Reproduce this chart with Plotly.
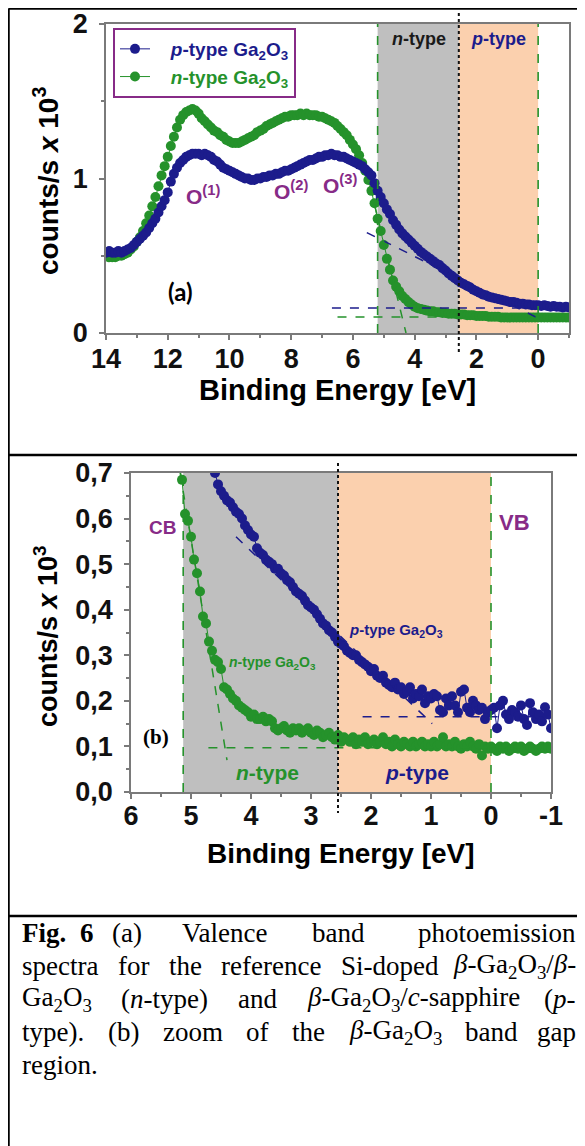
import re
import plotly.graph_objects as go

W, H = 585, 1146

# ---------------- data ----------------
# panel (a): spectra sampled every 0.1 eV from 14.0 eV down to -1.0 eV
energy_a_start, energy_a_step = 14.0, 0.1
p_type_a = [
    0.52, 0.53, 0.52, 0.52, 0.53, 0.52, 0.53, 0.54, 0.55, 0.57, 0.59,
    0.61, 0.63, 0.65, 0.68, 0.71, 0.74, 0.78, 0.82, 0.86, 0.91,
    0.98, 1.03, 1.07, 1.10, 1.12, 1.14, 1.15, 1.16, 1.16, 1.16,
    1.15, 1.16, 1.15, 1.14, 1.12, 1.11, 1.09, 1.07, 1.06, 1.05,
    1.04, 1.03, 1.02, 1.01, 1.00, 1.00, 0.99, 0.99, 1.00, 1.00,
    1.01, 1.01, 1.02, 1.02, 1.03, 1.03, 1.04, 1.05, 1.05, 1.06,
    1.07, 1.08, 1.09, 1.10, 1.11, 1.12, 1.12, 1.13, 1.14, 1.14,
    1.15, 1.15, 1.16, 1.15, 1.15, 1.14, 1.14, 1.13, 1.12, 1.11,
    1.10, 1.09, 1.08, 1.06, 1.04, 1.02, 0.97, 0.92, 0.88, 0.84,
    0.80, 0.77, 0.73, 0.70, 0.67, 0.645, 0.625, 0.605, 0.585, 0.565,
    0.545, 0.525, 0.51, 0.495, 0.48, 0.465, 0.45, 0.44, 0.42, 0.405,
    0.385, 0.37, 0.355, 0.34, 0.325, 0.315, 0.305, 0.295, 0.28, 0.27,
    0.26, 0.25, 0.245, 0.235, 0.23, 0.225, 0.22, 0.215, 0.21, 0.205,
    0.20, 0.20, 0.195, 0.19, 0.19, 0.185, 0.185, 0.18, 0.18, 0.18,
    0.175, 0.18, 0.175, 0.17, 0.175, 0.17, 0.17, 0.165, 0.17, 0.165,
]
n_type_a = [
    0.50, 0.49, 0.49, 0.49, 0.50, 0.50, 0.51, 0.52, 0.54, 0.56, 0.59,
    0.62, 0.66, 0.71, 0.76, 0.82, 0.88, 0.95, 1.02, 1.08, 1.14,
    1.21, 1.27, 1.33, 1.38, 1.41, 1.43, 1.44, 1.45, 1.44, 1.42,
    1.39, 1.37, 1.35, 1.33, 1.31, 1.30, 1.28, 1.27, 1.25, 1.24,
    1.23, 1.23, 1.23, 1.24, 1.25, 1.26, 1.27, 1.28, 1.30, 1.31,
    1.32, 1.34, 1.35, 1.36, 1.37, 1.38, 1.39, 1.40, 1.40, 1.41,
    1.41, 1.41, 1.42, 1.41, 1.42, 1.41, 1.41, 1.41, 1.40, 1.40,
    1.39, 1.38, 1.37, 1.36, 1.34, 1.32, 1.30, 1.28, 1.25, 1.22,
    1.19, 1.15, 1.10, 1.05, 0.99, 0.92, 0.84, 0.74, 0.66, 0.57,
    0.48, 0.41, 0.34, 0.30, 0.27, 0.24, 0.22, 0.20, 0.185, 0.17,
    0.16, 0.155, 0.15, 0.145, 0.14, 0.14, 0.135, 0.135, 0.13, 0.13,
    0.125, 0.125, 0.125, 0.12, 0.12, 0.12, 0.115, 0.115, 0.115, 0.11,
    0.11, 0.11, 0.11, 0.105, 0.105, 0.105, 0.105, 0.10, 0.10, 0.10,
    0.10, 0.10, 0.10, 0.10, 0.10, 0.10, 0.10, 0.10, 0.10, 0.10,
    0.10, 0.10, 0.10, 0.10, 0.10, 0.10, 0.10, 0.10, 0.10, 0.10,
]

# panel (b): zoom, sampled every 0.05 eV
energy_b_step = 0.05
energy_b_p_start = 4.70
p_type_b = [
    0.73, 0.715, 0.70, 0.675, 0.66, 0.65, 0.64, 0.635, 0.625, 0.615,
    0.61, 0.60, 0.585, 0.575, 0.565, 0.56, 0.535, 0.525, 0.52, 0.51,
    0.505, 0.50, 0.49, 0.49, 0.48, 0.475, 0.465, 0.46, 0.45, 0.44,
    0.435, 0.43, 0.42, 0.41, 0.405, 0.40, 0.39, 0.38, 0.37, 0.365,
    0.355, 0.35, 0.34, 0.33, 0.325, 0.32, 0.31, 0.305, 0.30, 0.30,
    0.29, 0.285, 0.28, 0.275, 0.265, 0.27, 0.255, 0.25, 0.255, 0.24,
    0.235, 0.23, 0.24, 0.225, 0.23, 0.215, 0.22, 0.23, 0.205, 0.215,
    0.21, 0.225, 0.195, 0.21, 0.205, 0.215, 0.21, 0.18, 0.175, 0.205,
    0.19, 0.21, 0.19, 0.175, 0.22, 0.225, 0.185, 0.175, 0.20, 0.19,
    0.18, 0.185, 0.16, 0.175, 0.18, 0.185, 0.14, 0.19, 0.20, 0.17,
    0.16, 0.18, 0.175, 0.165, 0.19, 0.16, 0.147, 0.195, 0.175, 0.16,
    0.17, 0.155, 0.186, 0.17, 0.14,
]
energy_b_n_start = 5.20
n_type_b = [
    0.72, 0.685, 0.61, 0.595, 0.56, 0.51, 0.48, 0.44, 0.385, 0.37,
    0.33, 0.31, 0.29, 0.285, 0.27, 0.23, 0.225, 0.215, 0.205, 0.20,
    0.19, 0.185, 0.18, 0.175, 0.165, 0.17, 0.16, 0.16, 0.165, 0.155,
    0.16, 0.155, 0.14, 0.135, 0.14, 0.145, 0.135, 0.13, 0.14, 0.135,
    0.14, 0.13, 0.135, 0.14, 0.13, 0.125, 0.135, 0.13, 0.12, 0.125,
    0.13, 0.12, 0.115, 0.125, 0.11, 0.12, 0.115, 0.11, 0.12, 0.105,
    0.115, 0.11, 0.12, 0.105, 0.11, 0.115, 0.105, 0.11, 0.12, 0.105,
    0.11, 0.10, 0.115, 0.105, 0.10, 0.11, 0.105, 0.10, 0.11, 0.10,
    0.105, 0.11, 0.10, 0.105, 0.10, 0.11, 0.10, 0.105, 0.12, 0.10,
    0.105, 0.10, 0.11, 0.10, 0.095, 0.105, 0.10, 0.11, 0.10, 0.095,
    0.105, 0.08, 0.10, 0.095, 0.10, 0.095, 0.09, 0.10, 0.095, 0.10,
    0.09, 0.095, 0.10, 0.095, 0.10, 0.09, 0.095, 0.10, 0.095, 0.09,
    0.095, 0.10, 0.095, 0.10, 0.095,
]

# linear fits (end points, eV / counts)
p_slope_a_x, p_slope_a_y = [5.55, 0.04], [0.65, 0.10]
p_base_a_x, p_base_a_y = [6.68, -1.0], [0.162, 0.162]
n_slope_a_x, n_slope_a_y = [5.30, 4.28], [0.83, 0.0]
n_base_a_x, n_base_a_y = [6.50, -1.0], [0.104, 0.104]
p_slope_b_x, p_slope_b_y = [4.25, 0.98], [0.56, 0.15]
p_base_b_x, p_base_b_y = [2.14, -1.0], [0.165, 0.165]
n_slope_b_x, n_slope_b_y = [5.18, 4.40], [0.70, 0.07]
n_base_b_x, n_base_b_y = [4.71, -1.0], [0.097, 0.097]

# band edges / Fermi midpoint
cb_a, mid_a, vb_a = 5.2, 2.57, 0.0
cb_b, mid_b, vb_b = 5.13, 2.55, 0.0

# ticks
x_ticks_a = [14, 12, 10, 8, 6, 4, 2, 0]
x_ticktext_a = ["14", "12", "10", "8", "6", "4", "2", "0"]
x_minor_a = [13, 11, 9, 7, 5, 3, 1, -1]
y_ticks_a = [0, 1, 2]
y_ticktext_a = ["0", "1", "2"]
y_minor_a = [0.5, 1.5]
x_ticks_b = [6, 5, 4, 3, 2, 1, 0, -1]
x_ticktext_b = ["6", "5", "4", "3", "2", "1", "0", "-1"]
x_minor_b = [5.5, 4.5, 3.5, 2.5, 1.5, 0.5, -0.5]
y_ticks_b = [0, 0.1, 0.2, 0.3, 0.4, 0.5, 0.6, 0.7]
y_ticktext_b = ["0,0", "0,1", "0,2", "0,3", "0,4", "0,5", "0,6", "0,7"]
y_minor_b = [0.05, 0.15, 0.25, 0.35, 0.45, 0.55, 0.65]

# caption (justified text)
caption_lines = [
    ["<b>Fig.</b>", "<b>6</b>", "(a)", "Valence", "band", "photoemission"],
    ["spectra", "for", "the", "reference", "Si-doped",
     "<i>β</i>-Ga<sub>2</sub>O<sub>3</sub>/<i>β</i>-"],
    ["Ga<sub>2</sub>O<sub>3</sub>", "(<i>n</i>-type)", "and",
     "<i>β</i>-Ga<sub>2</sub>O<sub>3</sub>/<i>c</i>-sapphire", "(<i>p</i>-"],
    ["type).", "(b)", "zoom", "of", "the", "<i>β</i>-Ga<sub>2</sub>O<sub>3</sub>", "band", "gap"],
    ["region."],
]

energy_a = [round(energy_a_start - energy_a_step * i, 2) for i in range(len(p_type_a))]
energy_b_p = [round(energy_b_p_start - energy_b_step * i, 2) for i in range(len(p_type_b))]
energy_b_n = [round(energy_b_n_start - energy_b_step * i, 2) for i in range(len(n_type_b))]

# ---------------- style ----------------
NAVY = "#1C1C8C"
GREEN = "#25922B"
PURPLE = "#872B87"
AXGRAY = "#7A7A7A"
SHADE_GRAY = "#BFBFBF"
SHADE_ORANGE = "#FBD0AE"
SANS = "Liberation Sans"
SERIF = "Liberation Serif"

# the page body has an 8 px margin: the figure is drawn 8 px in from the window corner
OFF = 8
FW, FH = W - OFF, H - OFF


def px(x):
    return (x - OFF) / FW


def py(y):
    return 1 - (y - OFF) / FH


fig = go.Figure()

P_NAME = '<span style="color:%s">&nbsp;&nbsp;&nbsp;<i>p</i>-type Ga<sub>2</sub>O<sub>3</sub></span>' % NAVY
N_NAME = '<span style="color:%s">&nbsp;&nbsp;&nbsp;<i>n</i>-type Ga<sub>2</sub>O<sub>3</sub></span>' % GREEN

# panel (a)
fig.add_trace(go.Scatter(x=energy_a, y=n_type_a, mode="lines+markers", name=N_NAME,
                         line=dict(color=GREEN, width=1), marker=dict(color=GREEN, size=10),
                         xaxis="x", yaxis="y"))
fig.add_trace(go.Scatter(x=energy_a, y=p_type_a, mode="lines+markers", name=P_NAME,
                         line=dict(color=NAVY, width=1), marker=dict(color=NAVY, size=10),
                         xaxis="x", yaxis="y"))
for xs, ys, c in [(p_slope_a_x, p_slope_a_y, NAVY), (p_base_a_x, p_base_a_y, NAVY),
                  (n_slope_a_x, n_slope_a_y, GREEN), (n_base_a_x, n_base_a_y, GREEN)]:
    fig.add_trace(go.Scatter(x=xs, y=ys, mode="lines", showlegend=False,
                             line=dict(color=c, width=1.5, dash="dash"), xaxis="x", yaxis="y"))

# panel (b)
fig.add_trace(go.Scatter(x=energy_b_n, y=n_type_b, mode="lines+markers", showlegend=False,
                         line=dict(color=GREEN, width=1), marker=dict(color=GREEN, size=10),
                         xaxis="x2", yaxis="y2"))
fig.add_trace(go.Scatter(x=energy_b_p, y=p_type_b, mode="lines+markers", showlegend=False,
                         line=dict(color=NAVY, width=1), marker=dict(color=NAVY, size=10),
                         xaxis="x2", yaxis="y2"))
for xs, ys, c in [(p_slope_b_x, p_slope_b_y, NAVY), (p_base_b_x, p_base_b_y, NAVY),
                  (n_slope_b_x, n_slope_b_y, GREEN), (n_base_b_x, n_base_b_y, GREEN)]:
    fig.add_trace(go.Scatter(x=xs, y=ys, mode="lines", showlegend=False,
                             line=dict(color=c, width=1.5, dash="dash"), xaxis="x2", yaxis="y2"))

tickfont = dict(family=SANS, size=27, weight="bold", color="#111111")


def axis(domain, rng, tv, tt, minor_vals, anchor, standoff):
    return dict(domain=domain, range=rng, anchor=anchor, tickmode="array", tickvals=tv, ticktext=tt,
                showline=True, linecolor=AXGRAY, linewidth=1.5, mirror=True,
                ticks="outside", ticklen=5, tickwidth=1.5, tickcolor=AXGRAY,
                minor=dict(tickmode="array", tickvals=minor_vals, ticks="outside", ticklen=3,
                           tickwidth=1.5, tickcolor=AXGRAY),
                showgrid=False, zeroline=False, tickfont=tickfont, ticklabelstandoff=standoff,
                automargin=False, fixedrange=True)


shapes = []
# shaded regions and band-edge lines
for xref, yref, cb, mid, vb, ytop, ybot in [("x", "y", cb_a, mid_a, vb_a, 13, 353),
                                            ("x2", "y2", cb_b, mid_b, vb_b, 463, 813)]:
    shapes.append(dict(type="rect", xref=xref, yref=yref + " domain", x0=cb, x1=mid, y0=0, y1=1,
                       fillcolor=SHADE_GRAY, line=dict(width=0), layer="below"))
    shapes.append(dict(type="rect", xref=xref, yref=yref + " domain", x0=mid, x1=vb, y0=0, y1=1,
                       fillcolor=SHADE_ORANGE, line=dict(width=0), layer="below"))
    for e in (cb, vb):
        shapes.append(dict(type="line", xref=xref, yref=yref + " domain", x0=e, x1=e, y0=0, y1=1,
                           line=dict(color=GREEN, width=1.6, dash="dash")))
    shapes.append(dict(type="line", xref=xref, yref="paper", x0=mid, x1=mid, y0=py(ytop), y1=py(ybot),
                       line=dict(color="#111111", width=2, dash="dot")))

# frame of the figure page
for x0, y0, x1, y1 in [(8.5, 8.5, 585, 8.5), (8.5, 8.5, 8.5, 1146),
                       (8.5, 455, 585, 455), (8.5, 916, 585, 916)]:
    shapes.append(dict(type="line", xref="paper", yref="paper", x0=px(x0), y0=py(y0),
                       x1=px(x1), y1=py(y1), line=dict(color="black", width=2.5)))

annotations = []


def ann(x, y, text, size, color="black", family=SANS, weight="bold", angle=0, xanchor="center"):
    annotations.append(dict(x=px(x), y=py(y), xref="paper", yref="paper", text=text, showarrow=False,
                            xanchor=xanchor, yanchor="middle", textangle=angle,
                            font=dict(family=family, size=size, color=color, weight=weight)))


# axis titles
ann(337, 390, "Binding Energy [eV]", 29)
ann(341, 853, "Binding Energy [eV]", 28)
ann(46, 181, "counts/s <i>x</i> 10<sup>3</sup>", 28, angle=-90)
ann(46, 636, "counts/s <i>x</i> 10<sup>3</sup>", 27, angle=-90)

# panel (a) labels
ann(419, 39, "<i>n</i>-type", 18, color="#1A1A1A")
ann(498, 39, "<i>p</i>-type", 18, color=NAVY)
ann(203, 195, "O<sup>(1)</sup>", 21, color=PURPLE)
ann(291, 190, "O<sup>(2)</sup>", 21, color=PURPLE)
ann(340, 184, "O<sup>(3)</sup>", 21, color=PURPLE)
ann(180, 291, "(a)", 24, family="Lato")

# panel (b) labels
ann(162, 527, "CB", 19, color=PURPLE)
ann(514, 522, "VB", 22, color=PURPLE)
ann(156, 737, "(b)", 21, family=SERIF)
ann(272, 663, "<i>n</i>-type Ga<sub>2</sub>O<sub>3</sub>", 14, color=GREEN)
ann(396, 630, "<i>p</i>-type Ga<sub>2</sub>O<sub>3</sub>", 15, color=NAVY)
ann(267, 772, "<i>n</i>-type", 21, color=GREEN)
ann(417, 772, "<i>p</i>-type", 21, color=NAVY)

# ---- caption: justified lines, word widths from Times (Liberation Serif) metrics ----
TIMES = {" ": 250, "(": 333, ")": 333, ".": 250, "/": 278, "-": 333, "a": 444, "b": 500,
         "c": 444, "d": 500, "e": 444, "f": 333, "g": 500, "h": 500, "i": 278, "l": 278,
         "m": 778, "n": 500, "o": 500, "p": 500, "r": 333, "s": 389, "t": 278, "y": 500,
         "z": 444, "S": 556, "V": 722, "G": 722, "O": 722, "F": 556, "2": 500, "3": 500,
         "6": 500, "β": 500}
TIMES_BOLD = {"F": 611, "i": 278, "g": 500, ".": 250, "6": 500}


def word_width(html, fs):
    width, bold, sub = 0.0, False, False
    for tok in re.split(r"(<[^>]+>)", html):
        if tok.startswith("<"):
            tag = tok.strip("</>").split()[0]
            closing = tok.startswith("</")
            if tag == "b":
                bold = not closing
            elif tag == "sub":
                sub = not closing
            continue
        for ch in tok:
            table = TIMES_BOLD if bold and ch in TIMES_BOLD else TIMES
            width += table.get(ch, 500) / 1000 * fs * (0.7 if sub else 1.0)
    return width


CAP_FS = 27
CAP_LEFT, CAP_RIGHT = 20, 578
CAP_Y0, CAP_DY = 933, 33
# first line of the reference has uneven word spacing: explicit left edges
first_line_left = [20, 78, 110, 180, 310]
for k, words in enumerate(caption_lines):
    yk = CAP_Y0 + k * CAP_DY
    widths = [word_width(w, CAP_FS) for w in words]
    if len(words) == 1:
        ann(CAP_LEFT, yk, words[0], CAP_FS, family=SERIF, weight="normal", xanchor="left")
        continue
    if k == 0:
        lefts = first_line_left
    else:
        gap = (CAP_RIGHT - CAP_LEFT - sum(widths)) / (len(words) - 1)
        lefts, xcur = [], CAP_LEFT
        for wd in widths[:-1]:
            lefts.append(xcur)
            xcur += wd + gap
    for w, xl in zip(words[:-1], lefts):
        ann(xl, yk, w, CAP_FS, family=SERIF, weight="normal", xanchor="left")
    ann(CAP_RIGHT, yk, words[-1], CAP_FS, family=SERIF, weight="normal", xanchor="right")

fig.update_layout(
    width=FW, height=FH, margin=dict(l=0, r=0, t=0, b=0, pad=0, autoexpand=False),
    paper_bgcolor="white", plot_bgcolor="white",
    xaxis=axis([px(106), px(569)], [14, -1], x_ticks_a, x_ticktext_a, x_minor_a, "y", -4),
    yaxis=axis([py(333), py(24)], [0, 2], y_ticks_a, y_ticktext_a, y_minor_a, "x", 6),
    xaxis2=axis([px(131), px(551)], [6, -1], x_ticks_b, x_ticktext_b, x_minor_b, "y2", -6),
    yaxis2=axis([py(792), py(473)], [0, 0.7], y_ticks_b, y_ticktext_b, y_minor_b, "x2", 6),
    shapes=shapes, annotations=annotations,
    showlegend=True,
    legend=dict(x=px(113), y=py(28), xanchor="left", yanchor="top", bgcolor="white",
                bordercolor=PURPLE, borderwidth=2, traceorder="reversed",
                font=dict(family=SANS, size=19, weight="bold"), itemwidth=30,
                tracegroupgap=2),
)

fig.write_html("out.html")
